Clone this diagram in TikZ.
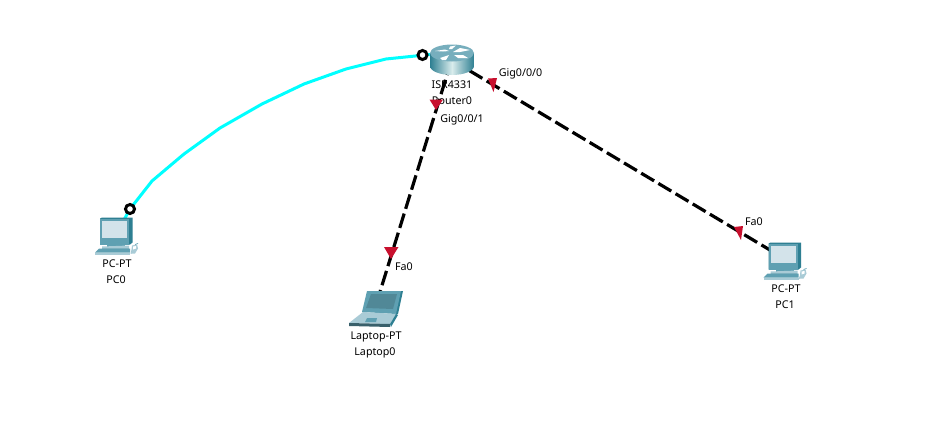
\documentclass[tikz,border=0pt]{standalone}
\usepackage{fontspec}
\setmainfont{Noto Sans}
\usetikzlibrary{calc}
\definecolor{tealdark}{HTML}{2E7F92}
\definecolor{tealmid}{HTML}{5FA0B2}
\definecolor{teallight}{HTML}{A9CBD6}
\definecolor{screenc}{HTML}{D3E3EA}
\definecolor{portred}{HTML}{C8102E}
\definecolor{consolecyan}{HTML}{00FFFF}
\tikzset{
  devlabel/.style={font=\fontsize{10.7}{12}\selectfont,text=black,inner sep=0pt,anchor=center},
  hub/.style={inner sep=0pt,minimum size=1pt},
  ethlink/.style={line width=3.2pt,black,dash pattern=on 15pt off 5pt},
  consolelink/.style={line width=3pt,consolecyan,line join=round},
  endring/.style={circle,draw=black,line width=3pt,fill=white,inner sep=0pt,minimum size=9pt},
  porttri/.style={fill=portred,draw=none},
}
\newcommand{\pcglyph}{%
  % monitor side + back
  \fill[tealdark] (0,1) -- (2,0) -- (32.5,0) -- (32.5,25) -- (30,27) -- (0,27) -- cycle;
  \fill[tealmid] (0,1) -- (29,1) -- (29,27) -- (0,27) -- cycle;
  \fill[screenc] (2,3) -- (27,3) -- (27,20) -- (2,20) -- cycle;
  % stand and base
  \fill[tealmid] (7,27) -- (25,27) -- (25,29) -- (7,29) -- cycle;
  \fill[teallight] (2,29) -- (29,28) -- (29,31) -- (2,31) -- cycle;
  \fill[tealdark] (2,31) -- (29,31) -- (28,33) -- (3,33) -- cycle;
  % keyboard
  \fill[tealmid] (-1,31) -- (30,31) -- (30,35) -- (-5,35) -- cycle;
  \fill[teallight] (-5,35) -- (30,35) -- (30,37) -- (-5,37) -- cycle;
  % mouse
  \draw[tealmid,line width=.7pt] (31,36) .. controls (33,30) and (35,26) .. (38,26);
  \fill[teallight] (32,28) -- (37,27) -- (38,31) -- (35,36) -- (31,36) -- cycle;
  \fill[white] (33,29) -- (36,28.5) -- (36,31) -- (33,32) -- cycle;
}
\begin{document}
\begin{tikzpicture}[x=1pt,y=-1pt]
\useasboundingbox (0,0) rectangle (937,447);
\fill[white] (0,0) rectangle (937,447);
% hubs
\node[hub] (router) at (451.6,60) {};
\node[hub] (pc0) at (115,236) {};
\node[hub] (laptop) at (374.4,310) {};
\node[hub] (pc1) at (785,259) {};
% labels
\node[devlabel] (lr1) at (452,84.5) {ISR4331};
\node[devlabel] (lr2) at (452,100.5) {Router0};
\node[devlabel] (lp1) at (117,263.5) {PC-PT};
\node[devlabel] (lp2) at (116,279.5) {PC0};
\node[devlabel] (ll1) at (376,336.5) {Laptop-PT};
\node[devlabel] (ll2) at (375,352.5) {Laptop0};
\node[devlabel] (lq1) at (786,288.5) {PC-PT};
\node[devlabel] (lq2) at (785,304.5) {PC1};
\node[devlabel] (g0) at (520.5,73.5) {Gig0/0/0};
\node[devlabel] (g1) at (462,119.5) {Gig0/0/1};
\node[devlabel] (f0) at (404,266.5) {Fa0};
\node[devlabel] (f1) at (754,221.5) {Fa0};
% connectors
\draw[ethlink] (router) -- (laptop);
\draw[ethlink] (router) -- (pc1);
\draw[consolelink] (pc0) -- (130,209) -- (152,181) -- (184,154) -- (220,128) -- (262,104) -- (304,84) -- (346,69) -- (386,59) -- (430,54.5) -- (router);
% port triangles
\fill[porttri] (429.5,99.5) -- (443,99.5) -- (436,110) -- cycle;
\fill[porttri] (384,247) -- (398.5,247) -- (391,259) -- cycle;
\fill[porttri] (488,78.5) -- (497,78) -- (493.5,92) -- cycle;
\fill[porttri] (734,227) -- (743,226) -- (741,240) -- cycle;
% end rings
\node[endring] (e0) at (130,209) {};
\node[endring] (e1) at (422.5,55) {};
% router icon
\begin{scope}
  \shade[left color=tealdark,right color=tealdark,middle color=white!85!teal]
    (430,53) -- (430,66) arc[start angle=180,end angle=0,x radius=22,y radius=9] -- (474,53) -- cycle;
  \fill[tealmid!85!white] (452,53) ellipse[x radius=22,y radius=8.5];
  \fill[white] (435,51) -- (445,49.5) -- (449,51) -- (443,51.5) -- cycle;
  \fill[white] (453,52) -- (460,48) -- (470,50) -- (460,52) -- cycle;
  \fill[white] (454,55) -- (463,55) -- (468,58) -- (458,58) -- cycle;
  \fill[white] (440,58) -- (449,55) -- (446,60) -- (442,60) -- cycle;
  \fill[white] (450,46.5) -- (456,45.5) -- (452,49) -- (449,49) -- cycle;
\end{scope}
% pcs
\begin{scope}[shift={(100,217.5)}]\pcglyph\end{scope}
\begin{scope}[shift={(768.5,242.5)}]\pcglyph\end{scope}
% laptop icon
\fill[tealdark] (367,291) -- (403,291) -- (398,314) -- (395,315) -- cycle;
\fill[tealmid] (367,291) -- (401,291) -- (396,314) -- (362,312) -- cycle;
\fill[tealmid!85!black] (371,294) -- (397,294) -- (393,309) -- (366,308) -- cycle;
\fill[teallight] (363,312) -- (396,314) -- (390,324) -- (349,323) -- cycle;
\fill[tealmid] (367,318) -- (377,318) -- (376,322) -- (365,322) -- cycle;
\fill[tealmid!60!black] (349,323) -- (390,324) -- (390,327) -- (349,326) -- cycle;
\fill[tealdark] (396,314) -- (398,315) -- (391,327) -- (390,324) -- cycle;
\end{tikzpicture}
\end{document}
